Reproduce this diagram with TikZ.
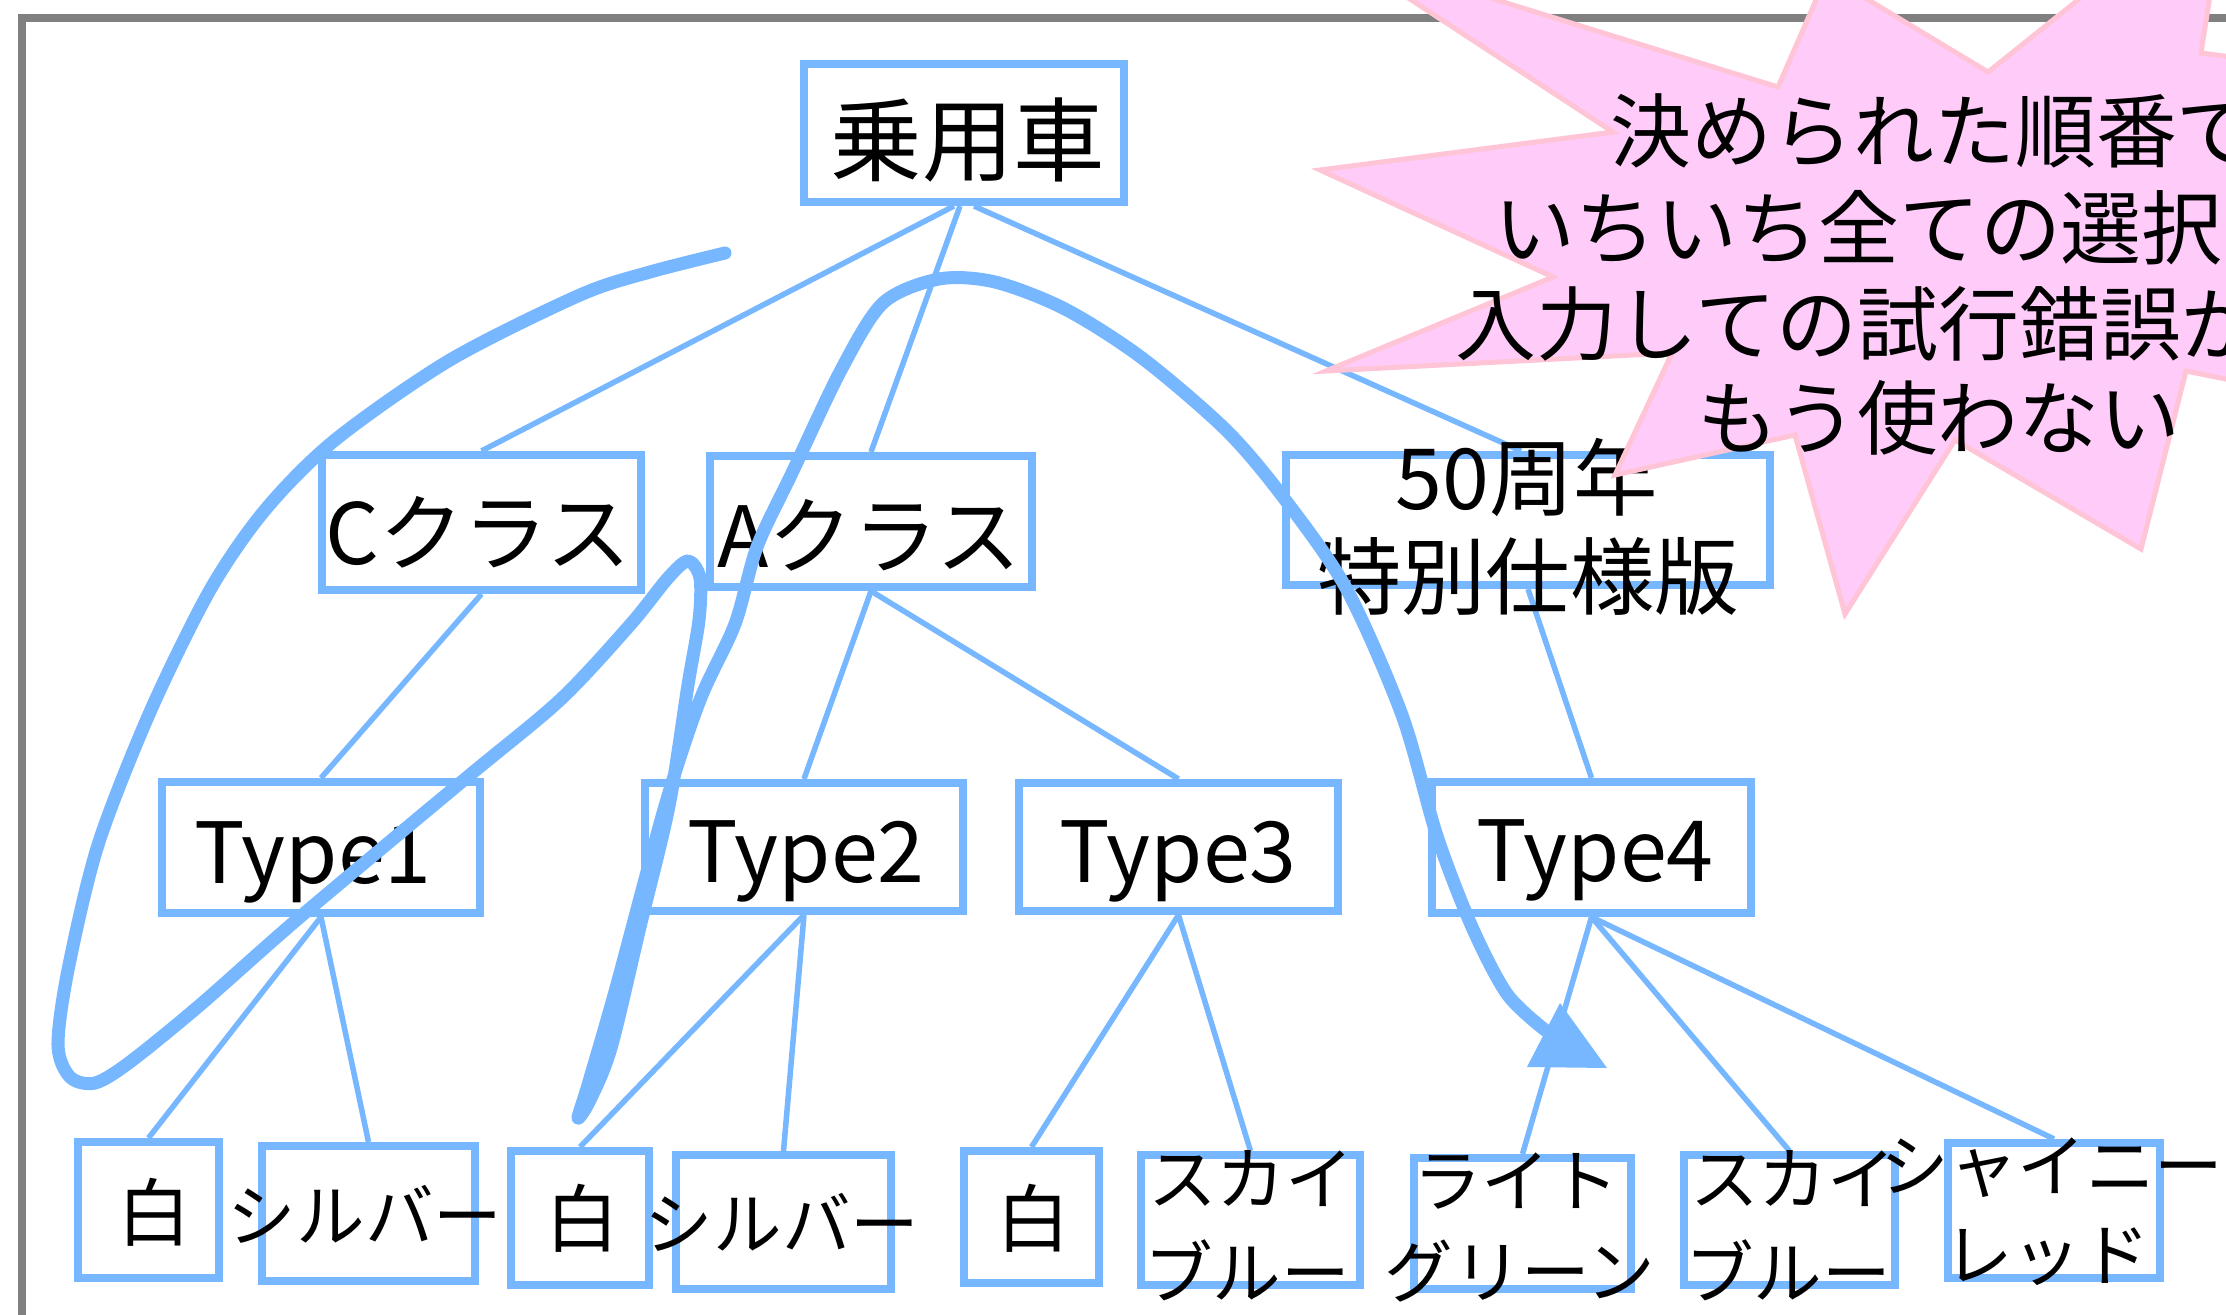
\documentclass[tikz,border=0pt]{standalone}
\usepackage{fontspec}
\newfontfamily\jp{Noto Sans CJK JP}
\definecolor{cblue}{RGB}{119,183,255}
\definecolor{cpink}{RGB}{255,204,249}
\definecolor{cpinkedge}{RGB}{255,196,214}
\definecolor{cgray}{RGB}{128,128,128}
\tikzset{
  bx/.style={draw=cblue, line width=0.08cm, fill=white, inner sep=0pt},
  conn/.style={draw=cblue, line width=0.055cm},
  txtA/.style={font=\jp\fontsize{26}{30}\selectfont, inner sep=0pt},
  txtB/.style={font=\jp\fontsize{24}{28}\selectfont, inner sep=0pt},
  txtC/.style={font=\jp\fontsize{19.5}{23}\selectfont, inner sep=0pt},
  txtW/.style={font=\jp\fontsize{21}{25}\selectfont, inner sep=0pt},
  txtS/.style={font=\jp\fontsize{23}{27}\selectfont, inner sep=0pt, anchor=west},
  stroke/.style={draw=cblue, line width=0.13cm, line cap=round, line join=round}
}
\begin{document}
\begin{tikzpicture}[x=0.01cm, y=-0.01cm]
\useasboundingbox (0,0) rectangle (2226,1315);
\clip (0,0) rectangle (2226,1315);
\fill[white] (0,0) rectangle (2226,1315);
% frame
\draw[cgray, line width=0.08cm] (22,1340) -- (22,18) -- (2260,18);

% boxes
\node[bx, minimum width=3.20cm, minimum height=1.38cm] (car) at (964,133) {};
\node[bx, minimum width=3.19cm, minimum height=1.35cm] (cc) at (481.5,522.5) {};
\node[bx, minimum width=3.22cm, minimum height=1.31cm] (ac) at (871,521.5) {};
\node[bx, minimum width=4.84cm, minimum height=1.30cm] (sp) at (1528,520) {};
\node[bx, minimum width=3.18cm, minimum height=1.31cm] (t1) at (321,847.5) {};
\node[bx, minimum width=3.18cm, minimum height=1.28cm] (t2) at (804,847) {};
\node[bx, minimum width=3.19cm, minimum height=1.28cm] (t3) at (1178.5,847) {};
\node[bx, minimum width=3.19cm, minimum height=1.31cm] (t4) at (1591.5,847.5) {};
\node[bx, minimum width=1.41cm, minimum height=1.36cm] (w1) at (148.5,1210) {};
\node[bx, minimum width=2.13cm, minimum height=1.35cm] (s1) at (368.5,1213.5) {};
\node[bx, minimum width=1.38cm, minimum height=1.34cm] (w2) at (580,1218) {};
\node[bx, minimum width=2.15cm, minimum height=1.34cm] (s2) at (783.5,1222) {};
\node[bx, minimum width=1.35cm, minimum height=1.32cm] (w3) at (1031.5,1217) {};
\node[bx, minimum width=2.19cm, minimum height=1.30cm] (b1) at (1250.5,1220) {};
\node[bx, minimum width=2.17cm, minimum height=1.31cm] (lg) at (1522.5,1223.5) {};
\node[bx, minimum width=2.11cm, minimum height=1.30cm] (b2) at (1789.5,1220) {};
\node[bx, minimum width=2.12cm, minimum height=1.35cm] (sr) at (2054,1210.5) {};

% connectors
\draw[conn] ([xshift=-0.1cm]car.south) -- (cc.north);
\draw[conn] ([xshift=-0.04cm]car.south) -- (ac.north);
\draw[conn] ([xshift=0.1cm]car.south) -- ([xshift=-0.07cm]sp.north);
\draw[conn] (cc.south) -- (t1.north);
\draw[conn] (ac.south) -- (t2.north);
\draw[conn] (ac.south) -- (t3.north);
\draw[conn] (sp.south) -- (t4.north);
\draw[conn] (t1.south) -- (w1.north);
\draw[conn] (t1.south) -- (s1.north);
\draw[conn] (t2.south) -- (w2.north);
\draw[conn] (t2.south) -- (s2.north);
\draw[conn] (t3.south) -- (w3.north);
\draw[conn] (t3.south) -- (b1.north);
\draw[conn] (t4.south) -- (lg.north);
\draw[conn] (t4.south) -- (b2.north);
\draw[conn] (t4.south) -- (sr.north);

% texts
\node[txtA] (cart) at (968,140) {乗用車};
\node[txtB] (cct) at (478,532) {Cクラス};
\node[txtB] (act) at (869,535) {Aクラス};
\node[txtB] (spta) at (1527,478) {50周年};
\node[txtB] (sptb) at (1528,576) {特別仕様版};
\node[txtB] (t1t) at (313,862) {Type1};
\node[txtB] (t2t) at (806,861) {Type2};
\node[txtB] (t3t) at (1178,861) {Type3};
\node[txtB] (t4t) at (1595,860) {Type4};
\node[txtW] (w1t) at (154,1212) {白};
\node[txtW] (w2t) at (582,1218) {白};
\node[txtW] (w3t) at (1033,1218) {白};
\node[txtC] (s1t) at (365,1214) {シルバー};
\node[txtC] (s2t) at (782,1222) {シルバー};
\node[txtC] (b1ta) at (1251,1179) {スカイ};
\node[txtC] (b1tb) at (1247,1270) {ブルー};
\node[txtC] (lgta) at (1516,1181) {ライト};
\node[txtC] (lgtb) at (1520,1271) {グリーン};
\node[txtC] (b2ta) at (1793,1179) {スカイ};
\node[txtC] (b2tb) at (1788,1270) {ブルー};
\node[txtC] (srta) at (2052,1168) {シャイニー};
\node[txtC] (srtb) at (2047,1257) {レッド};

% freehand stroke
\draw[stroke] plot[smooth, tension=0.5] coordinates {
 (725,253) (650,272) (580,295) (450,360) (335,440) (265,510) (210,590)
 (150,712) (98,845) (68,970) (58,1045) (70,1077) (95,1083) (130,1062)
 (200,1005) (300,917) (465,779) (560,700) (630,625) (668,578) (688,561)
 (700,578) (699,620) (688,685) (669,806) (640,927) (611,1048) (590,1100)
 (578,1118) (588,1085) (616,988) (665,806) (700,700) (735,624) (757,547)
 (792,473) (841,370) (883,303) (939,279) (995,282) (1065,309) (1142,358)
 (1226,430) (1283,497) (1346,588) (1402,715) (1437,836) (1472,927)
 (1507,994) (1545,1030)};
\coordinate (tipA) at (1560,1003);
\coordinate (tipB) at (1527,1067);
\coordinate (tipC) at (1607,1068);
\fill[cblue] (tipA) -- (tipB) -- (tipC) -- cycle;

% starburst
\filldraw[fill=cpink, draw=cpinkedge, line width=0.05cm, line join=miter]
 (1335,-50) -- (1613,132) -- (1320,170) -- (1553,277) -- (1326,371)
 -- (1672,353) -- (1615,475) -- (1795,435) -- (1845,614) -- (1955,440)
 -- (2141,549) -- (2186,371) -- (2330,400) -- (2330,70) -- (2201,53)
 -- (2228,-120) -- (1988,72) -- (1827,-25) -- (1778,87) -- cycle;
\node[txtS] (bs1) at (1610,131) {決められた順番で};
\node[txtS] (bs2) at (1494,228) {いちいち全ての選択};
\node[txtS] (bs3) at (1455,324) {入力しての試行錯誤が};
\node[txtS] (bs4) at (1697,418) {もう使わない};
\end{tikzpicture}
\end{document}
